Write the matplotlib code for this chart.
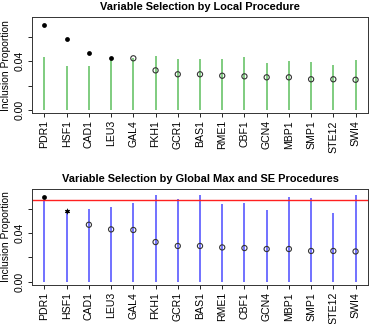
import matplotlib
matplotlib.use("Agg")
import matplotlib.pyplot as plt
import numpy as np

plt.rcParams['font.family'] = ['Liberation Sans', 'DejaVu Sans']

genes = ["PDR1", "HSF1", "CAD1", "LEU3", "GAL4", "FKH1", "GCR1", "BAS1",
         "RME1", "CBF1", "GCN4", "MBP1", "SMP1", "STE12", "SWI4"]
inclusion = [0.0697, 0.0582, 0.0467, 0.0429, 0.0424, 0.0325, 0.0293, 0.0293,
             0.0281, 0.0276, 0.0268, 0.0268, 0.0252, 0.0252, 0.0248]
local_upper = [0.0432, 0.0363, 0.0361, 0.0410, 0.0430, 0.0443, 0.0415, 0.0420,
               0.0415, 0.0432, 0.0385, 0.0404, 0.0393, 0.0369, 0.0410]
global_upper = [0.0666, 0.0578, 0.0593, 0.0609, 0.0647, 0.0713, 0.0674, 0.0710,
                0.0639, 0.0647, 0.0590, 0.0694, 0.0686, 0.0561, 0.0707]
global_max = 0.0666
local_selected = [True, True, True, True] + [False] * 11
global_max_sel = ["PDR1"]
global_se_sel = ["HSF1"]

yticks = [0.0, 0.02, 0.04, 0.06]
yticklabels = ["0.00", "", "0.04", ""]

W, H = 370, 324
fig = plt.figure(figsize=(W / 100, H / 100), dpi=100)

def px_axes(l, t, r, b):
    return fig.add_axes([l / W, 1 - b / H, (r - l) / W, (b - t) / H])

ax1 = px_axes(32, 17.3, 368, 113.3)
ax2 = px_axes(32, 189, 368, 285)

x = np.arange(1, len(genes) + 1)

def style(ax, title):
    ax.set_xlim(0.44, 15.56)
    ax.set_ylim(-0.0027, 0.0760)
    ax.set_xticks(x)
    ax.set_xticklabels(genes, rotation=90, fontsize=7.6)
    ax.set_yticks(yticks)
    ax.set_yticklabels(yticklabels, rotation=90, va='center', fontsize=7.6)
    ax.tick_params(length=3, width=0.6, pad=2)
    for s in ax.spines.values():
        s.set_linewidth(0.7)
        s.set_color('#333333')
    ax.text(-0.078, 0.5, "Inclusion Proportion", transform=ax.transAxes,
            rotation=90, ha='center', va='center', fontsize=7.4)
    ax.set_title(title, fontsize=7.9, fontweight='bold', pad=5)

# Top panel
ax1.vlines(x, 0, local_upper, color='#5cbf5c', lw=1.1, zorder=1)
inc = np.array(inclusion)
sel = np.array(local_selected)
ax1.scatter(x[sel], inc[sel], s=12, color='black', zorder=3, lw=0)
ax1.scatter(x[~sel], inc[~sel], s=14, facecolor='none', edgecolor='#333333',
            lw=0.8, zorder=3)
style(ax1, "Variable Selection by Local Procedure")

# Bottom panel
ax2.vlines(x, 0, global_upper, color='#4a4aff', lw=1.1, zorder=1)
ax2.axhline(global_max, color='#ff2020', lw=1.0, zorder=2)
gi = {g: i for i, g in enumerate(genes)}
mx = np.array([gi[g] for g in global_max_sel])
se = np.array([gi[g] for g in global_se_sel])
rest = np.array([i for i in range(len(genes)) if genes[i] not in global_max_sel + global_se_sel])
ax2.scatter(x[mx], inc[mx], s=12, color='black', zorder=3, lw=0)
ax2.scatter(x[se], inc[se], s=12, marker=(6, 2, 0), color='#222222', lw=0.6, zorder=3)
ax2.scatter(x[se], inc[se], s=7, color='black', zorder=3, lw=0)
ax2.scatter(x[rest], inc[rest], s=14, facecolor='none', edgecolor='#333333',
            lw=0.8, zorder=3)
style(ax2, "Variable Selection by Global Max and SE Procedures")

fig.savefig("out.png", dpi=100)
